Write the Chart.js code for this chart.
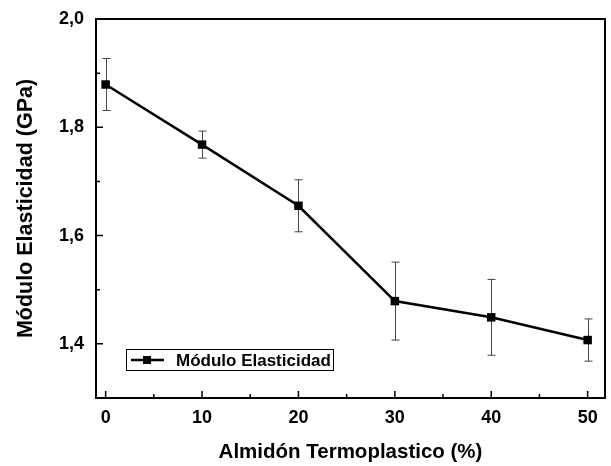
<!DOCTYPE html>
<html>
<head>
<meta charset="utf-8">
<script src="https://cdn.jsdelivr.net/npm/chart.js@4/dist/chart.umd.min.js"></script>
<style>
  html, body { margin: 0; padding: 0; background: #fff; }
  #wrap { width: 611px; height: 466px; }
</style>
</head>
<body>
<div id="wrap"><canvas id="modChart" width="611" height="466"></canvas></div>
<script>
// Contenido de almidón termoplástico (%)
const almidon = [0, 10, 20, 30, 40, 50];
// Módulo elástico medio (GPa) y desviación
const modulo = [1.879, 1.768, 1.655, 1.479, 1.449, 1.407];
const desviacion = [0.048, 0.025, 0.048, 0.072, 0.070, 0.039];

const xTicks = [0, 10, 20, 30, 40, 50];
const xMinor = [5, 15, 25, 35, 45];
const yTicks = [1.4, 1.6, 1.8, 2.0];
const yMinor = [1.5, 1.7, 1.9];

const FONT = "'Liberation Sans', Arial, Helvetica, sans-serif";

// barras de error + ticks hacia dentro + marco
const extras = {
    id: "extras",
    beforeDatasetsDraw(chart) {
        const { ctx, scales: { x, y } } = chart;
        ctx.save();
        ctx.strokeStyle = "#444";
        ctx.lineWidth = 1;
        almidon.forEach((v, i) => {
            const px = Math.round(x.getPixelForValue(v)) + 0.5;
            const top = y.getPixelForValue(modulo[i] + desviacion[i]);
            const bot = y.getPixelForValue(modulo[i] - desviacion[i]);
            ctx.beginPath();
            ctx.moveTo(px, top); ctx.lineTo(px, bot);
            ctx.moveTo(px - 4, top); ctx.lineTo(px + 4, top);
            ctx.moveTo(px - 4, bot); ctx.lineTo(px + 4, bot);
            ctx.stroke();
        });
        ctx.restore();
    },
    afterDraw(chart) {
        const { ctx, chartArea: a, scales: { x, y } } = chart;
        ctx.save();
        ctx.strokeStyle = "#000";
        ctx.lineWidth = 1.5;
        ctx.beginPath();
        xTicks.forEach(v => {
            const px = x.getPixelForValue(v);
            ctx.moveTo(px, a.bottom); ctx.lineTo(px, a.bottom - 7);
        });
        xMinor.forEach(v => {
            const px = x.getPixelForValue(v);
            ctx.moveTo(px, a.bottom); ctx.lineTo(px, a.bottom - 4);
        });
        yTicks.forEach(v => {
            const py = y.getPixelForValue(v);
            ctx.moveTo(a.left, py); ctx.lineTo(a.left + 7, py);
        });
        yMinor.forEach(v => {
            const py = y.getPixelForValue(v);
            ctx.moveTo(a.left, py); ctx.lineTo(a.left + 4, py);
        });
        ctx.stroke();

        ctx.lineWidth = 2;
        ctx.strokeRect(a.left, a.top, a.right - a.left, a.bottom - a.top);

        // leyenda
        const lx = a.left + 30, ly = a.bottom - 49;
        const ds = chart.data.datasets[0];
        ctx.lineWidth = 1;
        ctx.strokeRect(lx + 0.5, ly + 0.5, 207, 21);
        ctx.lineWidth = 2.5;
        ctx.beginPath();
        ctx.moveTo(lx + 5, ly + 11); ctx.lineTo(lx + 38, ly + 11);
        ctx.stroke();
        ctx.fillStyle = "#000";
        ctx.fillRect(lx + 17, ly + 7, 8, 8);
        ctx.font = "bold 17px " + FONT;
        ctx.textBaseline = "middle";
        ctx.fillText(ds.label, lx + 50, ly + 12);
        ctx.restore();
    }
};

new Chart(document.getElementById("modChart"), {
    type: "line",
    data: {
        datasets: [{
            label: "Módulo Elasticidad",
            data: almidon.map((v, i) => ({ x: v, y: modulo[i] })),
            borderColor: "#000",
            backgroundColor: "#000",
            borderWidth: 2.5,
            pointStyle: "rect",
            pointRadius: 6,
            pointBorderWidth: 0,
            tension: 0
        }]
    },
    options: {
        responsive: false,
        animation: false,
        layout: { padding: { top: 19, right: 5, left: 0, bottom: 0 } },
        plugins: {
            legend: { display: false },
            tooltip: { enabled: false }
        },
        scales: {
            x: {
                type: "linear",
                min: -1,
                max: 51.8,
                afterBuildTicks: s => { s.ticks = xTicks.map(v => ({ value: v })); },
                afterFit: s => { s.height = 68; },
                grid: { display: false },
                border: { display: false },
                ticks: {
                    color: "#000",
                    padding: 1,
                    font: { family: FONT, size: 18, weight: "bold" }
                },
                title: {
                    display: true,
                    text: "Almidón Termoplastico (%)",
                    color: "#000",
                    padding: { top: 0, bottom: 1 },
                    font: { family: FONT, size: 20.5, weight: "bold" }
                }
            },
            y: {
                min: 1.3,
                max: 2.0,
                afterBuildTicks: s => { s.ticks = yTicks.map(v => ({ value: v })); },
                afterFit: s => { s.width = 96; },
                grid: { display: false },
                border: { display: false },
                ticks: {
                    color: "#000",
                    padding: 4,
                    font: { family: FONT, size: 18, weight: "bold" },
                    callback: v => v.toFixed(1).replace(".", ",")
                },
                title: {
                    display: true,
                    text: "Módulo Elasticidad (GPa)",
                    color: "#000",
                    padding: { top: 13, bottom: 0 },
                    font: { family: FONT, size: 21.5, weight: "bold" }
                }
            }
        }
    },
    plugins: [extras]
});
</script>
</body>
</html>
